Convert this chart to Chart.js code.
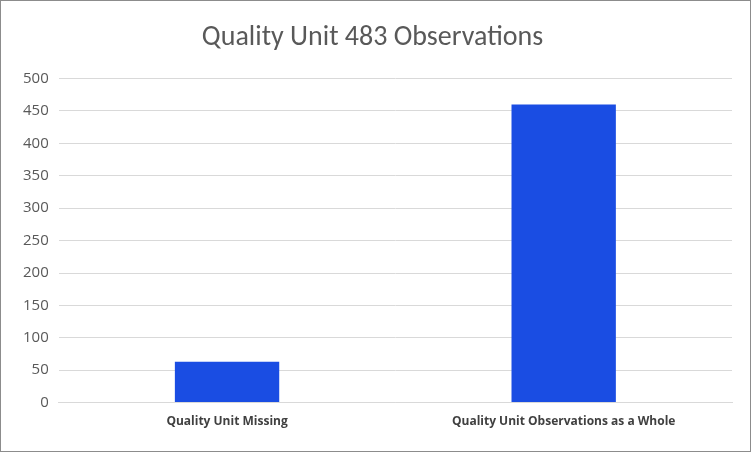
<!DOCTYPE html>
<html><head><meta charset="utf-8">
<script src="https://cdn.jsdelivr.net/npm/chart.js@4"></script>
<style>
html,body{margin:0;padding:0;background:#fff;}
#wrap{position:absolute;left:0;top:0;width:749px;height:450px;border:1px solid #8c8c8c;}
</style></head><body>
<div id="wrap"><canvas id="c" width="749" height="450"></canvas></div>
<script>
const categories = ["Quality Unit Missing", "Quality Unit Observations as a Whole"];
const values = [63, 460];
const tickMax = 500;
const tickStep = 50;

new Chart(document.getElementById('c'), {
  type: 'bar',
  data: { labels: categories, datasets: [{ data: values, backgroundColor: '#1a4de3', categoryPercentage: 0.31, barPercentage: 1 }] },
  options: {
    responsive: false, animation: false,
    layout: { padding: { left: 12, right: 18, top: 16, bottom: 18 } },
    plugins: {
      legend: { display: false },
      tooltip: { enabled: false },
      title: { display: true, text: 'Quality Unit 483 Observations', color: '#595959',
        font: { family: 'Calibri, Carlito, "Open Sans", sans-serif', size: 28, weight: 'normal' }, padding: { top: 4, bottom: 24 } }
    },
    scales: {
      y: { min: 0, max: tickMax, ticks: { stepSize: tickStep, color: '#595959', font: { family: '"Open Sans", sans-serif', size: 15 }, padding: 10 },
        grid: { color: '#d9d9d9', drawTicks: false }, border: { display: false } },
      x: { ticks: { color: '#404040', font: { family: '"Open Sans", sans-serif', size: 12, weight: 'bold' }, maxRotation: 0, padding: 4 },
        grid: { display: false }, border: { color: '#d9d9d9' } }
    }
  }
});
</script></body></html>
